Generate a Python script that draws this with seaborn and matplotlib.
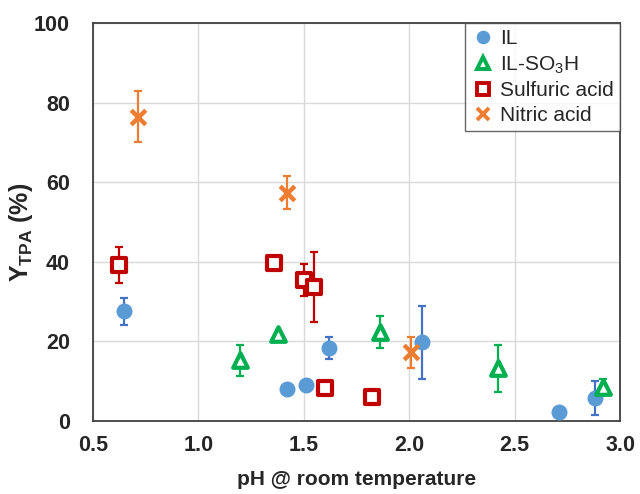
import pandas as pd
import seaborn as sns
from matplotlib import pyplot as plt
from matplotlib.ticker import MultipleLocator

# values
il_ph = [0.65, 1.42, 1.51, 1.62, 2.06, 2.71, 2.88]
il_y = [27.6, 8.0, 9.1, 18.3, 19.8, 2.3, 5.7]
il_err = [3.4, 0, 0, 2.8, 9.2, 0, 4.3]

so3h_ph = [1.20, 1.38, 1.86, 2.42, 2.92]
so3h_y = [15.3, 21.8, 22.4, 13.2, 8.6]
so3h_err = [3.9, 0, 4.1, 5.9, 2.0]

sulf_ph = [0.625, 1.36, 1.50, 1.55, 1.60, 1.825]
sulf_y = [39.2, 39.6, 35.4, 33.7, 8.2, 5.9]
sulf_err = [4.6, 1.0, 4.0, 8.8, 1.5, 0]

nitric_ph = [0.715, 1.42, 2.01]
nitric_y = [76.5, 57.4, 17.2]
nitric_err = [6.4, 4.1, 4.0]

sns.set_style('white')
plt.rcParams['font.family'] = ['Liberation Sans', 'DejaVu Sans']
plt.rcParams['mathtext.fontset'] = 'custom'
plt.rcParams['mathtext.rm'] = 'Liberation Sans'
plt.rcParams['mathtext.bf'] = 'Liberation Sans:bold'

fig = plt.figure(figsize=(6.4, 4.94), dpi=100)
ax = fig.add_axes([0.145, 0.148, 0.824, 0.805])

series = [
    ('IL', il_ph, il_y, il_err, 'o', '#5B9BD5', '#5B9BD5', '#4472C4', 11.5),
    ('IL-SO$_3$H', so3h_ph, so3h_y, so3h_err, '^', 'white', '#00B050', '#00B050', 10.5),
    ('Sulfuric acid', sulf_ph, sulf_y, sulf_err, 's', 'white', '#C00000', '#C00000', 10),
    ('Nitric acid', nitric_ph, nitric_y, nitric_err, 'x', '#ED7D31', '#ED7D31', '#ED7D31', 10.5),
]

handles = []
for name, xs, ys, errs, mk, fc, ec, errc, ms in series:
    df = pd.DataFrame({'pH': xs, 'Y': ys, 'err': errs})
    e = df[df['err'] > 0]
    ax.errorbar(e['pH'], e['Y'], yerr=e['err'], fmt='none', ecolor=errc,
                elinewidth=1.6, capsize=3, capthick=1.6, zorder=2)
    if mk == 'x':
        sns.scatterplot(x='pH', y='Y', data=df, marker='x', color=ec, s=ms**2,
                        linewidth=3.2, ax=ax, zorder=3)
    else:
        sns.scatterplot(x='pH', y='Y', data=df, marker=mk, facecolor=fc, edgecolor=ec,
                        s=ms**2, linewidth=0 if mk == 'o' else 3, ax=ax, zorder=3)
    h, = ax.plot([], [], linestyle='none', marker=mk, markersize=ms * 0.85,
                 markerfacecolor=fc, markeredgecolor=ec,
                 markeredgewidth=0 if mk == 'o' else 2.8, label=name)
    handles.append(h)

ax.set_xlim(0.5, 3.0)
ax.set_ylim(0, 100)
ax.xaxis.set_major_locator(MultipleLocator(0.5))
ax.xaxis.set_minor_locator(MultipleLocator(0.1))
ax.yaxis.set_major_locator(MultipleLocator(20))
ax.yaxis.set_minor_locator(MultipleLocator(4))
ax.set_xticklabels([f'{v:.1f}' for v in ax.get_xticks()])
ax.grid(True, which='major', color='#d9d9d9', linewidth=1)
ax.set_axisbelow(True)
for sp in ax.spines.values():
    sp.set_visible(True)
    sp.set_color('#404040')
    sp.set_linewidth(1.3)
ax.tick_params(which='major', direction='inout', length=11, width=1.2, color='#404040',
               labelsize=15.5)
ax.tick_params(axis='x', which='major', pad=5)
ax.tick_params(axis='y', which='major', pad=11)
ax.tick_params(which='minor', direction='in', length=4, width=1.2, color='#404040')
for lab in ax.get_xticklabels() + ax.get_yticklabels():
    lab.set_fontweight('bold')

ax.set_xlabel('pH @ room temperature', fontsize=15, fontweight='bold', labelpad=10)
ax.set_ylabel(r'Y$_{\mathbf{TPA}}$ (%)', fontsize=18, fontweight='bold')
ax.yaxis.set_label_coords(-0.11, 0.475)

leg = ax.legend(handles=handles, loc='upper right', frameon=True,
                fancybox=False, edgecolor='#404040', borderaxespad=0,
                handletextpad=0.2, labelspacing=0.27, borderpad=0.3, handlelength=1.2,
                prop={'size': 15})
leg.get_frame().set_linewidth(1.0)

plt.savefig('out.png', dpi=100)
